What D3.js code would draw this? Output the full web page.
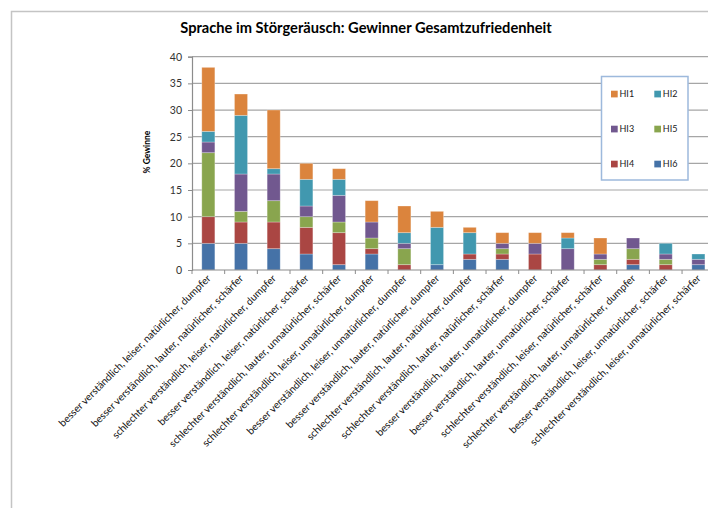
<!DOCTYPE html>
<html>
<head>
<meta charset="utf-8">
<script src="https://cdn.jsdelivr.net/npm/d3@7/dist/d3.min.js"></script>
<style>
  html, body { margin: 0; padding: 0; background: #fff; }
  svg { display: block; }
</style>
</head>
<body>
<svg id="chart" width="708" height="508"></svg>
<script>
// Kategorien (Beurteilung der Sprache im Störgeräusch)
const categories = [
  "besser verständlich, leiser, natürlicher, dumpfer",
  "besser verständlich, lauter, natürlicher, schärfer",
  "schlechter verständlich, leiser, natürlicher, dumpfer",
  "besser verständlich, leiser, natürlicher, schärfer",
  "schlechter verständlich, lauter, unnatürlicher, schärfer",
  "schlechter verständlich, leiser, unnatürlicher, dumpfer",
  "besser verständlich, leiser, unnatürlicher, dumpfer",
  "besser verständlich, lauter, natürlicher, dumpfer",
  "schlechter verständlich, lauter, natürlicher, dumpfer",
  "schlechter verständlich, lauter, natürlicher, schärfer",
  "besser verständlich, lauter, unnatürlicher, dumpfer",
  "besser verständlich, lauter, unnatürlicher, schärfer",
  "schlechter verständlich, leiser, natürlicher, schärfer",
  "schlechter verständlich, lauter, unnatürlicher, dumpfer",
  "besser verständlich, leiser, unnatürlicher, schärfer",
  "schlechter verständlich, leiser, unnatürlicher, schärfer"
];

// % Gewinne je Hörgerät
const HI6 = [5, 5, 4, 3, 1, 3, 0, 1, 2, 2, 0, 0, 0, 1, 0, 1];
const HI4 = [5, 4, 5, 5, 6, 1, 1, 0, 1, 1, 3, 0, 1, 1, 1, 0];
const HI5 = [12, 2, 4, 2, 2, 2, 3, 0, 0, 1, 0, 0, 1, 2, 1, 0];
const HI3 = [2, 7, 5, 2, 5, 3, 1, 0, 0, 1, 2, 4, 1, 2, 1, 1];
const HI2 = [2, 11, 1, 5, 3, 0, 2, 7, 4, 0, 0, 2, 0, 0, 2, 1];
const HI1 = [12, 4, 11, 3, 2, 4, 5, 3, 1, 2, 2, 1, 3, 0, 0, 0];

// Stapelreihenfolge von unten nach oben
const stackKeys = ["HI6", "HI4", "HI5", "HI3", "HI2", "HI1"];
// Legende: zwei Spalten, drei Zeilen
const legendKeys = ["HI1", "HI2", "HI3", "HI5", "HI4", "HI6"];
const yTicks = [0, 5, 10, 15, 20, 25, 30, 35, 40];

const seriesValues = { HI1, HI2, HI3, HI4, HI5, HI6 };
const colors = {
  HI1: "#db843d",
  HI2: "#4198af",
  HI3: "#71588f",
  HI4: "#aa4643",
  HI5: "#89a54e",
  HI6: "#4572a7"
};

const rows = categories.map((c, i) => {
  const r = { category: c };
  for (const k of stackKeys) r[k] = seriesValues[k][i];
  return r;
});

const svg = d3.select("#chart");
const font = "Lato, 'Liberation Sans', Arial, sans-serif";

// Schriftgröße so wählen, dass ein Text eine bestimmte Breite einnimmt
function fitFontSize(sel, targetWidth) {
  const base = parseFloat(sel.attr("font-size"));
  const w = sel.node().getComputedTextLength();
  return base * targetWidth / w;
}

// Diagrammrahmen
svg.append("path")
  .attr("d", "M11.5,508 L11.5,11.5 L708,11.5")
  .attr("fill", "none")
  .attr("stroke", "#c4c4c4")
  .attr("stroke-width", 1.5);

// Titel
const title = svg.append("text")
  .attr("x", 366)
  .attr("y", 33)
  .attr("text-anchor", "middle")
  .attr("font-family", font)
  .attr("font-weight", "bold")
  .attr("font-size", 13)
  .attr("fill", "#000")
  .text("Sprache im Störgeräusch: Gewinner Gesamtzufriedenheit");
title.attr("font-size", fitFontSize(title, 372));

const plot = { left: 192, top: 56.7, bottom: 270 };
const step = 32.67;

const x = d3.scaleBand()
  .domain(categories)
  .range([plot.left, plot.left + step * categories.length])
  .paddingInner(0.6)
  .paddingOuter(0.3);

const y = d3.scaleLinear()
  .domain([0, 40])
  .range([plot.bottom, plot.top]);

// Gitternetzlinien
svg.append("g")
  .selectAll("line")
  .data(yTicks.filter(d => d > 0))
  .join("line")
  .attr("x1", plot.left)
  .attr("x2", 708)
  .attr("y1", d => y(d))
  .attr("y2", d => y(d))
  .attr("stroke", "#a6a6a6")
  .attr("stroke-width", 1.2);

// Gestapelte Säulen
const stacked = d3.stack().keys(stackKeys)(rows);
svg.append("g")
  .selectAll("g")
  .data(stacked)
  .join("g")
  .attr("fill", d => colors[d.key])
  .selectAll("rect")
  .data(d => d.filter(s => s[1] - s[0] > 0))
  .join("rect")
  .attr("x", d => x(d.data.category))
  .attr("width", x.bandwidth())
  .attr("y", d => y(d[1]))
  .attr("height", d => y(d[0]) - y(d[1]))
  .attr("stroke", "#ffffff")
  .attr("stroke-opacity", 0.35)
  .attr("stroke-width", 0.8);

// Y-Achse
const yAxis = svg.append("g")
  .attr("transform", `translate(${plot.left},0)`)
  .call(d3.axisLeft(y).tickValues(yTicks).tickSize(4).tickPadding(6));
yAxis.select(".domain").attr("stroke", "#8c8c8c").attr("stroke-width", 1.2);
yAxis.selectAll(".tick line").attr("stroke", "#8c8c8c");
yAxis.selectAll(".tick text")
  .attr("font-family", font)
  .attr("font-size", 10.5)
  .attr("fill", "#333");

// X-Achse mit Teilstrichen zwischen den Kategorien
const xAxisG = svg.append("g");
xAxisG.append("line")
  .attr("x1", plot.left)
  .attr("x2", 708)
  .attr("y1", plot.bottom)
  .attr("y2", plot.bottom)
  .attr("stroke", "#8c8c8c")
  .attr("stroke-width", 1.2);
xAxisG.selectAll("line.tick")
  .data(categories)
  .join("line")
  .attr("class", "tick")
  .attr("x1", d => x(d) - x.step() * x.paddingInner() / 2)
  .attr("x2", d => x(d) - x.step() * x.paddingInner() / 2)
  .attr("y1", plot.bottom)
  .attr("y2", plot.bottom + 4)
  .attr("stroke", "#8c8c8c");

const xLabels = xAxisG.selectAll("text")
  .data(categories)
  .join("text")
  .attr("transform", d => `translate(${x(d) + x.bandwidth() / 2 + 3},${plot.bottom + 9}) rotate(-45)`)
  .attr("text-anchor", "end")
  .attr("font-family", font)
  .attr("font-size", 9)
  .attr("fill", "#111")
  .text(d => d);
const labelSize = fitFontSize(d3.select(xLabels.nodes()[0]), 210);
xLabels.attr("font-size", labelSize);

// Y-Achsentitel
svg.append("text")
  .attr("transform", "translate(150,152) rotate(-90)")
  .attr("text-anchor", "middle")
  .attr("font-family", font)
  .attr("font-weight", "bold")
  .attr("font-size", 8.5)
  .attr("fill", "#000")
  .text("% Gewinne");

// Legende
const legend = svg.append("g");
legend.append("rect")
  .attr("x", 601.5)
  .attr("y", 76.5)
  .attr("width", 86.5)
  .attr("height", 103.5)
  .attr("fill", "#fff")
  .attr("stroke", "#9db9dc")
  .attr("stroke-width", 1.5);

const legendItems = legend.selectAll("g.item")
  .data(legendKeys)
  .join("g")
  .attr("class", "item")
  .attr("transform", (d, i) => `translate(${611 + (i % 2) * 43.3},${94 + Math.floor(i / 2) * 35})`);
legendItems.append("rect")
  .attr("x", 0)
  .attr("y", -3.3)
  .attr("width", 6.7)
  .attr("height", 6.7)
  .attr("fill", d => colors[d]);
legendItems.append("text")
  .attr("x", 8.5)
  .attr("y", 3)
  .attr("font-family", font)
  .attr("font-size", 9)
  .attr("fill", "#222")
  .text(d => d);
</script>
</body>
</html>
